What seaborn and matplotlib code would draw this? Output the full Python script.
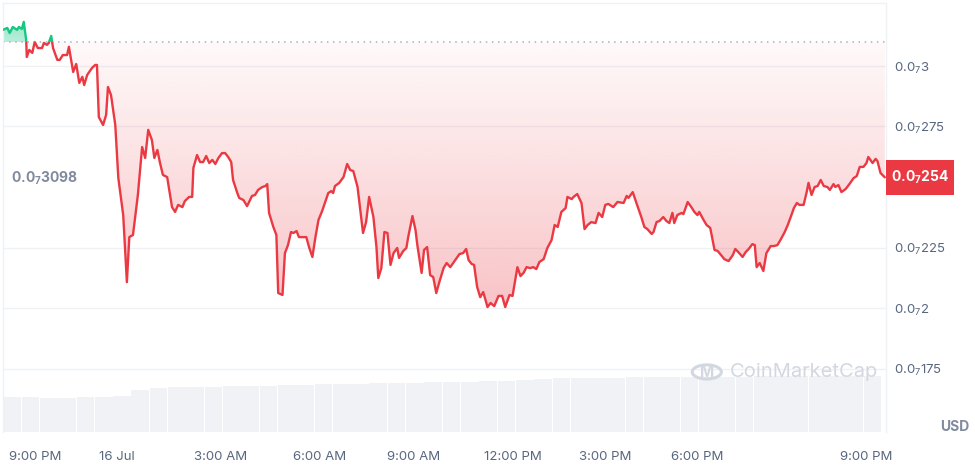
import numpy as np
import matplotlib
matplotlib.use("Agg")
import matplotlib.pyplot as plt
from matplotlib.patches import Rectangle, Circle
from matplotlib.path import Path
import matplotlib.transforms as mtransforms
import seaborn as sns

# price in units of 1e-8 USD (shown as 0.0_7xxx), time in minutes from start
minutes = [0, 7, 11, 16, 23, 26, 31, 34, 38, 39,
           43, 48, 52, 57, 64, 67, 72, 75, 79, 82,
           89, 93, 98, 105, 108, 115, 120, 125, 130, 133,
           138, 146, 151, 154, 157, 164, 169, 172, 177, 184,
           189, 197, 203, 207, 213, 221, 228, 233, 238, 244,
           248, 253, 257, 262, 269, 277, 282, 287, 294, 298,
           305, 310, 312, 318, 323, 328, 333, 338, 343, 348,
           353, 359, 364, 369, 374, 377, 384, 387, 394, 400,
           408, 413, 418, 425, 430, 433, 436, 443, 448, 451,
           458, 462, 467, 472, 476, 481, 485, 497, 502, 507,
           512, 517, 523, 528, 533, 538, 541, 544, 551, 558,
           564, 569, 574, 581, 585, 590, 595, 600, 607, 612,
           615, 620, 625, 630, 635, 640, 646, 649, 656, 661,
           664, 671, 676, 679, 686, 690, 695, 700, 705, 710,
           715, 722, 727, 733, 741, 748, 754, 759, 763, 768,
           772, 777, 782, 787, 794, 799, 805, 812, 818, 823,
           830, 835, 843, 848, 853, 858, 864, 869, 874, 879,
           886, 892, 899, 904, 909, 915, 922, 925, 932, 935,
           941, 948, 953, 958, 964, 971, 976, 982, 987, 992,
           1000, 1007, 1017, 1022, 1025, 1032, 1038, 1046, 1051, 1056,
           1063, 1066, 1071, 1076, 1082, 1087, 1092, 1097, 1100, 1105,
           1112, 1115, 1122, 1128, 1133, 1138, 1141, 1148, 1153, 1159,
           1166, 1171, 1178, 1182, 1189, 1196, 1200, 1205, 1212, 1217,
           1222, 1228, 1232, 1235, 1240, 1246, 1251, 1258, 1263, 1269,
           1274, 1281, 1286, 1292, 1296, 1301, 1305, 1312, 1317, 1320,
           1325, 1330, 1335, 1340, 1345, 1351, 1355, 1361, 1364, 1369,
           1374, 1381, 1387, 1394, 1399, 1404, 1410, 1415, 1418, 1425,
           1430, 1433, 1438, 1445]
price = [3.149, 3.157, 3.136, 3.161, 3.149, 3.161, 3.153, 3.182, 3.107, 3.037,
         3.066, 3.054, 3.099, 3.074, 3.074, 3.095, 3.087, 3.095, 3.124, 3.074,
         3.025, 3.025, 3.045, 3.045, 3.079, 2.975, 3.008, 2.930, 2.955, 2.921,
         2.963, 2.992, 3.004, 3.004, 2.789, 2.756, 2.798, 2.913, 2.880, 2.756,
         2.537, 2.384, 2.107, 2.293, 2.302, 2.467, 2.665, 2.620, 2.736, 2.694,
         2.620, 2.653, 2.603, 2.550, 2.541, 2.417, 2.397, 2.426, 2.417, 2.442,
         2.459, 2.459, 2.579, 2.632, 2.603, 2.603, 2.628, 2.599, 2.612, 2.595,
         2.620, 2.640, 2.640, 2.624, 2.603, 2.529, 2.475, 2.455, 2.446, 2.421,
         2.463, 2.467, 2.488, 2.500, 2.504, 2.512, 2.393, 2.335, 2.302, 2.062,
         2.054, 2.227, 2.260, 2.314, 2.310, 2.318, 2.293, 2.293, 2.248, 2.211,
         2.293, 2.364, 2.401, 2.438, 2.475, 2.483, 2.475, 2.504, 2.517, 2.541,
         2.595, 2.570, 2.566, 2.500, 2.417, 2.310, 2.355, 2.459, 2.376, 2.252,
         2.124, 2.165, 2.314, 2.310, 2.178, 2.227, 2.248, 2.207, 2.236, 2.248,
         2.293, 2.380, 2.322, 2.260, 2.145, 2.240, 2.252, 2.136, 2.128, 2.062,
         2.107, 2.165, 2.186, 2.169, 2.198, 2.223, 2.227, 2.244, 2.198, 2.182,
         2.178, 2.087, 2.045, 2.066, 2.004, 2.021, 2.008, 2.050, 2.050, 2.004,
         2.054, 2.050, 2.169, 2.132, 2.145, 2.169, 2.165, 2.169, 2.161, 2.190,
         2.202, 2.248, 2.281, 2.343, 2.335, 2.397, 2.413, 2.459, 2.450, 2.459,
         2.471, 2.434, 2.326, 2.343, 2.355, 2.351, 2.393, 2.376, 2.426, 2.430,
         2.417, 2.438, 2.434, 2.463, 2.455, 2.479, 2.434, 2.376, 2.335, 2.326,
         2.306, 2.314, 2.355, 2.360, 2.376, 2.360, 2.351, 2.393, 2.351, 2.384,
         2.393, 2.388, 2.438, 2.417, 2.397, 2.384, 2.397, 2.364, 2.343, 2.331,
         2.240, 2.236, 2.215, 2.202, 2.194, 2.219, 2.244, 2.231, 2.211, 2.231,
         2.244, 2.264, 2.260, 2.169, 2.186, 2.153, 2.227, 2.256, 2.256, 2.260,
         2.281, 2.314, 2.343, 2.384, 2.413, 2.434, 2.426, 2.426, 2.479, 2.517,
         2.467, 2.500, 2.504, 2.529, 2.504, 2.500, 2.488, 2.512, 2.500, 2.508,
         2.479, 2.492, 2.512, 2.537, 2.545, 2.583, 2.583, 2.599, 2.624, 2.599,
         2.616, 2.607, 2.558, 2.540]

# 30 minute volume bars (arbitrary units)
vol_minutes = list(range(15, 1440, 30))
volume = [3.5, 3.5, 3.4, 3.4, 3.5, 3.5, 3.6, 4.2, 4.4, 4.5,
          4.5, 4.5, 4.6, 4.6, 4.6, 4.7, 4.7, 4.8, 4.8, 4.8,
          4.9, 4.9, 4.9, 5.0, 5.0, 5.0, 5.1, 5.1, 5.2, 5.3,
          5.4, 5.4, 5.4, 5.4, 5.5, 5.5, 5.5, 5.5, 5.5, 5.5,
          5.5, 5.6, 5.6, 5.6, 5.6, 5.6, 5.6, 5.6]

ref_price = 3.098
last_price = 2.54
xtick_minutes = [52, 187, 356, 518, 672, 836, 987, 1137, 1415]
xtick_labels = ["9:00 PM", "16 Jul", "3:00 AM", "6:00 AM", "9:00 AM",
                "12:00 PM", "3:00 PM", "6:00 PM", "9:00 PM"]
ytick_values = [1.75, 2.0, 2.25, 2.75, 3.0]
ytick_labels = [r"0.0$_7$175", r"0.0$_7$2", r"0.0$_7$225", r"0.0$_7$275", r"0.0$_7$3"]

RED = "#ea3943"
GREEN = "#16c784"
GREY = "#58667e"

sns.set_theme(style="white")
plt.rcParams["font.family"] = ["Inter", "DejaVu Sans"]
plt.rcParams["mathtext.fontset"] = "custom"
plt.rcParams["mathtext.rm"] = "Inter"
plt.rcParams["mathtext.it"] = "Inter"
plt.rcParams["mathtext.bf"] = "Inter:bold"

fig = plt.figure(figsize=(9.75, 4.67), dpi=100)
ax = fig.add_axes([3 / 975, 35 / 467, 883 / 975, 429 / 467])
ax2 = ax.twinx()
ax.set_zorder(ax2.get_zorder() + 1)
ax.patch.set_visible(False)

xmax = 1447
ylo, yhi = 1.488, 3.260

# volume
ax2.bar(vol_minutes, volume, width=29, color="#f0f2f5", edgecolor="none")
ax2.set_ylim(0, 42.9)
ax2.set_yticks([])
ax2.set_xlim(0, xmax)

t = np.array(minutes, dtype=float)
p = np.array(price)

# gradient fills
def gradient_fill(where, color, y0, y1, a_top, a_bot):
    coll = ax.fill_between(t, p, ref_price, where=where, interpolate=True,
                           facecolor="none", edgecolor="none")
    path = Path.make_compound_path(*coll.get_paths())
    rgb = matplotlib.colors.to_rgb(color)
    n = 200
    img = np.zeros((n, 1, 4))
    img[:, 0, :3] = rgb
    img[:, 0, 3] = np.linspace(a_top, a_bot, n)
    im = ax.imshow(img, extent=[0, xmax, y0, y1], origin="upper",
                   aspect="auto", zorder=1, interpolation="bilinear")
    im.set_clip_path(path, transform=ax.transData)

gradient_fill(p <= ref_price, RED, p.min(), ref_price, 0.03, 0.30)
gradient_fill(p >= ref_price, GREEN, ref_price, p.max(), 0.45, 0.30)

ax.axhline(ref_price, color="#a6b0c3", lw=1.1, ls=(0, (1, 3)), zorder=2)

sns.lineplot(x=t, y=p, ax=ax, color=RED, lw=1.7, estimator=None, sort=False, zorder=3)
red_line = ax.lines[-1]
red_line.set_clip_path(Rectangle((0, 0), xmax, ref_price, transform=ax.transData))
sns.lineplot(x=t, y=p, ax=ax, color=GREEN, lw=1.7, estimator=None, sort=False, zorder=3)
green_line = ax.lines[-1]
green_line.set_clip_path(Rectangle((0, ref_price), xmax, 5, transform=ax.transData))

ax.set_xlim(0, xmax)
ax.set_ylim(ylo, yhi)
ax.set_xlabel("")
ax.set_ylabel("")

ax.set_yticks(ytick_values)
ax.set_yticklabels(ytick_labels)
ax.yaxis.tick_right()
ax.tick_params(axis="y", length=0, pad=6, labelsize=9.5, labelcolor=GREY)
ax.set_xticks(xtick_minutes)
ax.set_xticklabels(xtick_labels)
ax.tick_params(axis="x", length=0, pad=14, labelsize=9.5, labelcolor=GREY)
ax.yaxis.grid(True, color="#eff2f5", lw=1)
ax.xaxis.grid(False)

for side in ["top", "left", "right"]:
    ax.spines[side].set_color("#eff2f5")
    ax.spines[side].set_linewidth(1)
ax.spines["bottom"].set_visible(False)
for s in ax2.spines.values():
    s.set_visible(False)

# current price tag
blend = mtransforms.blended_transform_factory(ax.transAxes, ax.transData)
ax.add_patch(Rectangle((1.0, last_price - 0.072), 68 / 883, 0.144, transform=blend,
                       fc=RED, ec="none", clip_on=False, zorder=10))
ax.text(1.0 + 34 / 883, last_price, r"0.0$_\mathbf{7}$254", transform=blend,
        va="center", ha="center", color="white", fontsize=10, fontweight="bold", zorder=11)

# reference price label
ax.text(0.009, 0.592, r"0.0$_\mathbf{7}$3098", transform=ax.transAxes, ha="left", va="center",
        fontsize=10, fontweight="bold", color="#808a9d", zorder=5,
        bbox=dict(boxstyle="square,pad=0.35", fc="white", ec="none"))

# watermark
ax.add_patch(Circle((0.797, 0.14), 0.0165, transform=ax.transAxes, fc="none",
                    ec="#d3d8e0", lw=2.2, zorder=4))
ax.text(0.797, 0.138, "M", transform=ax.transAxes, ha="center", va="center",
        fontsize=11, color="#d3d8e0", fontweight="bold", zorder=4)
ax.text(0.823, 0.14, "CoinMarketCap", transform=ax.transAxes, ha="left", va="center",
        fontsize=14.5, color="#d3d8e0", zorder=4)

fig.text(955 / 975, 1 - 427 / 467, "USD", ha="center", va="center",
         fontsize=10, fontweight="bold", color="#808a9d")

fig.savefig("out.png", dpi=100, facecolor="white")
